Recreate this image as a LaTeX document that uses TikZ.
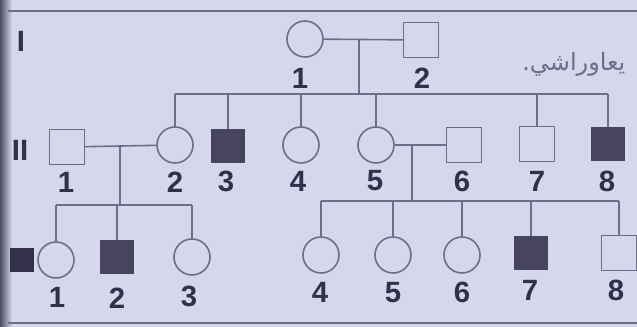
\documentclass[tikz,border=0pt]{standalone}
\usepackage{fontspec}
\setmainfont{Liberation Sans}
\newfontfamily\arabicfont[Script=Arabic]{DejaVu Sans}
\TeXXeTstate=1
\definecolor{paper}{RGB}{214,214,236}
\definecolor{ink}{RGB}{110,110,138}
\definecolor{txt}{RGB}{50,48,74}
\definecolor{aff}{RGB}{70,68,94}
\definecolor{edge}{RGB}{80,80,100}
\begin{document}
\begin{tikzpicture}[x=0.75pt,y=-0.75pt,
  male/.style={draw=ink,line width=1.2pt,minimum size=26pt,inner sep=0pt,fill=paper},
  malex/.style={male,fill=aff,draw=aff,minimum size=25pt},
  female/.style={draw=ink,line width=1.2pt,circle,minimum size=27pt,inner sep=0pt,fill=paper},
  lnk/.style={draw=ink,line width=1.2pt},
  num/.style={font=\bfseries\fontsize{22}{22}\selectfont,text=txt,inner sep=0pt},
  gen/.style={font=\bfseries\fontsize{22}{22}\selectfont,text=txt,inner sep=0pt},
  arab/.style={font=\arabicfont\fontsize{18}{18}\selectfont,text=ink,inner sep=0pt,anchor=west}]
\useasboundingbox (0,0) rectangle (637,327);
\fill[paper] (0,0) rectangle (637,327);
\shade[left color=edge,right color=paper] (0,0) rectangle (12,327);
\coordinate (tl) at (8,11);
\coordinate (tr) at (637,11);
\coordinate (bl) at (8,323);
\coordinate (br) at (637,323);
\draw[lnk] (tl) -- (tr);
\draw[lnk] (bl) -- (br);
% generation labels
\node[gen] (gI) at (21,41) {I};
\node[gen] (gII) at (20,150) {II};
\node[gen,fill=txt,minimum width=18pt,minimum height=18pt] (gIII) at (22,260) {};
% arabic note
\node[arab] (note) at (522,64) {\beginR يعاوراشي.\endR};
% generation I
\node[female] (I1) at (305,39) {};
\node[male] (I2) at (421,40) {};
% generation II
\node[male] (II1) at (67,147) {};
\node[female] (II2) at (175,145) {};
\node[malex] (II3) at (228,146) {};
\node[female] (II4) at (301,145) {};
\node[female] (II5) at (376,145) {};
\node[male] (II6) at (464,145) {};
\node[male] (II7) at (537,144) {};
\node[malex] (II8) at (608,144) {};
% generation III
\node[female] (III1) at (56,260) {};
\node[malex] (III2) at (117,257) {};
\node[female] (III3) at (192,257) {};
\node[female] (III4) at (321,255) {};
\node[female] (III5) at (393,255) {};
\node[female] (III6) at (462,255) {};
\node[malex] (III7) at (531,253) {};
\node[male] (III8) at (619,253) {};
% connectors generation I
\draw[lnk] (I1) -- (I2);
\coordinate (m1) at (359,40);
\coordinate (s1) at (359,94);
\draw[lnk] (m1) -- (s1);
\draw[lnk] (II2 |- s1) -- (II8 |- s1);
\foreach \n in {II2,II3,II4,II5,II7,II8} \draw[lnk] (\n |- s1) -- (\n);
% connectors II1 x II2
\draw[lnk] (II1) -- (II2);
\coordinate (m2) at (120,146);
\coordinate (s2) at (120,205);
\draw[lnk] (m2) -- (s2);
\draw[lnk] (III1 |- s2) -- (III3 |- s2);
\foreach \n in {III1,III2,III3} \draw[lnk] (\n |- s2) -- (\n);
% connectors II5 x II6
\draw[lnk] (II5) -- (II6);
\coordinate (m3) at (412,145);
\coordinate (s3) at (412,201);
\draw[lnk] (m3) -- (s3);
\draw[lnk] (III4 |- s3) -- (III8 |- s3);
\foreach \n in {III4,III5,III6,III7,III8} \draw[lnk] (\n |- s3) -- (\n);
% numbers
\node[num] (nI1) at (300,78) {1};
\node[num] (nI2) at (422,78) {2};
\node[num] (nII1) at (66,182) {1};
\node[num] (nII2) at (175,182) {2};
\node[num] (nII3) at (226,181) {3};
\node[num] (nII4) at (298,181) {4};
\node[num] (nII5) at (375,181) {5};
\node[num] (nII6) at (462,181) {6};
\node[num] (nII7) at (537,181) {7};
\node[num] (nII8) at (607,181) {8};
\node[num] (nIII1) at (57,297) {1};
\node[num] (nIII2) at (117,298) {2};
\node[num] (nIII3) at (189,296) {3};
\node[num] (nIII4) at (320,292) {4};
\node[num] (nIII5) at (393,293) {5};
\node[num] (nIII6) at (462,292) {6};
\node[num] (nIII7) at (530,290) {7};
\node[num] (nIII8) at (616,290) {8};
\end{tikzpicture}
\end{document}
